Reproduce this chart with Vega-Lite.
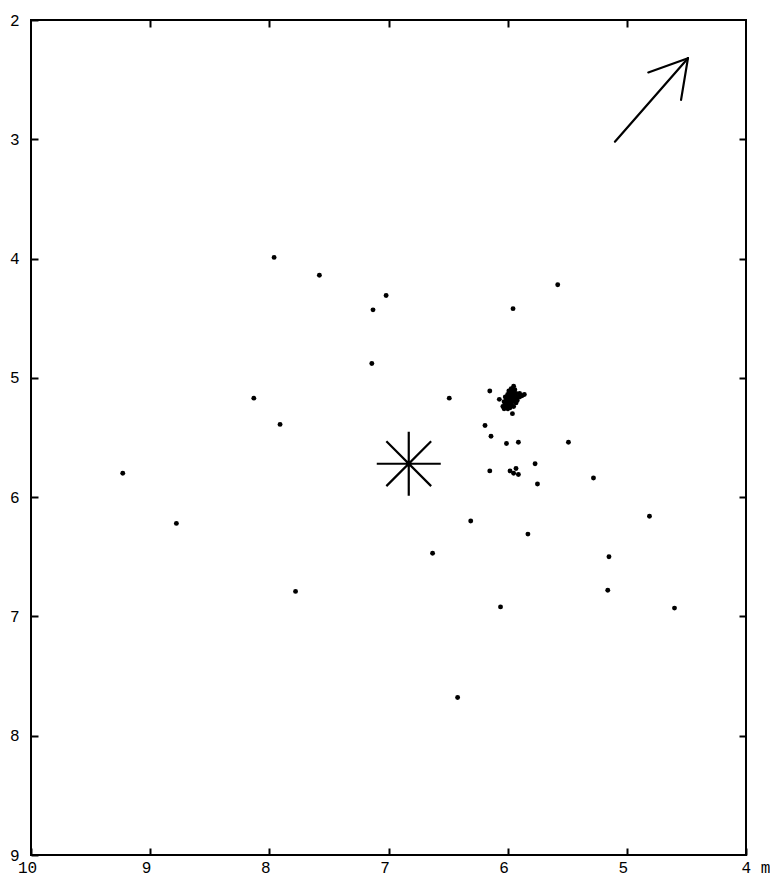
{
  "$schema": "https://vega.github.io/schema/vega-lite/v6.json",
  "width": 715,
  "height": 835,
  "autosize": {"type": "none"},
  "padding": {"left": 31, "top": 20, "right": 24, "bottom": 20},
  "background": "white",
  "config": {
    "view": {"stroke": "black", "strokeWidth": 2},
    "axis": {
      "labelFont": "Liberation Mono",
      "labelFontSize": 16,
      "labelColor": "black",
      "domain": false,
      "tickColor": "black",
      "tickWidth": 2,
      "grid": false,
      "title": null
    }
  },
  "datasets": {
    "dots": [
      {"x": 7.96, "y": 3.99}, {"x": 7.58, "y": 4.14}, {"x": 7.02, "y": 4.31}, {"x": 7.13, "y": 4.43},
      {"x": 5.58, "y": 4.22}, {"x": 5.955, "y": 4.42}, {"x": 7.14, "y": 4.88}, {"x": 8.13, "y": 5.17},
      {"x": 6.49, "y": 5.17}, {"x": 7.91, "y": 5.39}, {"x": 9.23, "y": 5.8}, {"x": 8.78, "y": 6.22},
      {"x": 7.78, "y": 6.79}, {"x": 6.63, "y": 6.47}, {"x": 6.31, "y": 6.2}, {"x": 6.06, "y": 6.92},
      {"x": 6.42, "y": 7.68}, {"x": 5.83, "y": 6.31}, {"x": 5.49, "y": 5.54}, {"x": 5.28, "y": 5.84},
      {"x": 4.81, "y": 6.16}, {"x": 5.15, "y": 6.5}, {"x": 5.16, "y": 6.78}, {"x": 4.6, "y": 6.93},
      {"x": 6.15, "y": 5.11}, {"x": 6.19, "y": 5.4}, {"x": 6.14, "y": 5.49}, {"x": 6.01, "y": 5.55},
      {"x": 5.91, "y": 5.54}, {"x": 6.15, "y": 5.78}, {"x": 5.98, "y": 5.78}, {"x": 5.93, "y": 5.76},
      {"x": 5.95, "y": 5.8}, {"x": 5.91, "y": 5.81}, {"x": 5.77, "y": 5.72}, {"x": 5.75, "y": 5.89},
      {"x": 6.07, "y": 5.18}, {"x": 5.96, "y": 5.3}, {"x": 5.86, "y": 5.14}, {"x": 5.95, "y": 5.07},
      {"x": 5.97, "y": 5.09}, {"x": 5.94, "y": 5.1}, {"x": 5.99, "y": 5.11}, {"x": 5.96, "y": 5.12},
      {"x": 5.93, "y": 5.13}, {"x": 5.9, "y": 5.13}, {"x": 6.0, "y": 5.14}, {"x": 5.97, "y": 5.14},
      {"x": 5.95, "y": 5.15}, {"x": 5.92, "y": 5.16}, {"x": 6.02, "y": 5.16}, {"x": 5.99, "y": 5.16},
      {"x": 5.96, "y": 5.17}, {"x": 5.94, "y": 5.18}, {"x": 6.01, "y": 5.18}, {"x": 5.98, "y": 5.19},
      {"x": 5.96, "y": 5.2}, {"x": 6.03, "y": 5.2}, {"x": 6.0, "y": 5.21}, {"x": 5.97, "y": 5.22},
      {"x": 6.02, "y": 5.22}, {"x": 5.99, "y": 5.23}, {"x": 6.04, "y": 5.24}, {"x": 6.01, "y": 5.24},
      {"x": 5.98, "y": 5.25}, {"x": 6.03, "y": 5.26}, {"x": 6.0, "y": 5.26}, {"x": 5.98, "y": 5.13},
      {"x": 5.95, "y": 5.24}, {"x": 5.93, "y": 5.21}, {"x": 5.92, "y": 5.19}, {"x": 5.9, "y": 5.16},
      {"x": 5.88, "y": 5.15}
    ],
    "star": [{"x": 6.83, "y": 5.72}],
    "arrow": [
      {"x": 5.1, "y": 3.02, "x2": 4.487, "y2": 2.32},
      {"x": 4.82, "y": 2.44, "x2": 4.487, "y2": 2.32},
      {"x": 4.545, "y": 2.67, "x2": 4.487, "y2": 2.32}
    ]
  },
  "layer": [
    {
      "data": {"name": "dots"},
      "mark": {"type": "point", "filled": true, "color": "black", "opacity": 1, "size": 24},
      "encoding": {
        "x": {
          "field": "x", "type": "quantitative",
          "scale": {"domain": [4, 10], "reverse": true, "nice": false, "zero": false},
          "axis": {
            "orient": "bottom", "values": [4, 5, 6, 7, 8, 9, 10], "tickSize": -7, "labelPadding": 11,
            "labelExpr": "datum.value == 4 ? '4 m' : datum.label",
            "labelAlign": {"condition": {"test": "datum.value == 4", "value": "left"}, "value": "center"},
            "labelOffset": {"condition": {"test": "datum.value == 4", "value": -5}, "value": -4}
          }
        },
        "y": {
          "field": "y", "type": "quantitative",
          "scale": {"domain": [2, 9], "reverse": true, "nice": false, "zero": false},
          "axis": {"orient": "left", "values": [2, 3, 4, 5, 6, 7, 8, 9], "tickSize": -7, "labelPadding": 19}
        }
      }
    },
    {
      "data": {"name": "star"},
      "mark": {
        "type": "point",
        "shape": "M0,-1L0,1M-1,0L1,0M-0.7,-0.7L0.7,0.7M-0.7,0.7L0.7,-0.7",
        "filled": false,
        "color": "black",
        "strokeWidth": 2.2,
        "opacity": 1,
        "size": 4096
      },
      "encoding": {
        "x": {"field": "x", "type": "quantitative", "axis": {"orient": "top", "values": [5, 6, 7, 8, 9], "tickSize": -7, "labels": false}},
        "y": {"field": "y", "type": "quantitative", "axis": {"orient": "right", "values": [3, 4, 5, 6, 7, 8], "tickSize": -7, "labels": false}}
      }
    },
    {
      "data": {"name": "arrow"},
      "mark": {"type": "rule", "color": "black", "strokeWidth": 2.2, "strokeCap": "round"},
      "encoding": {
        "x": {"field": "x", "type": "quantitative", "axis": null},
        "y": {"field": "y", "type": "quantitative", "axis": null},
        "x2": {"field": "x2"},
        "y2": {"field": "y2"}
      }
    }
  ],
  "resolve": {"axis": {"x": "independent", "y": "independent"}}
}
